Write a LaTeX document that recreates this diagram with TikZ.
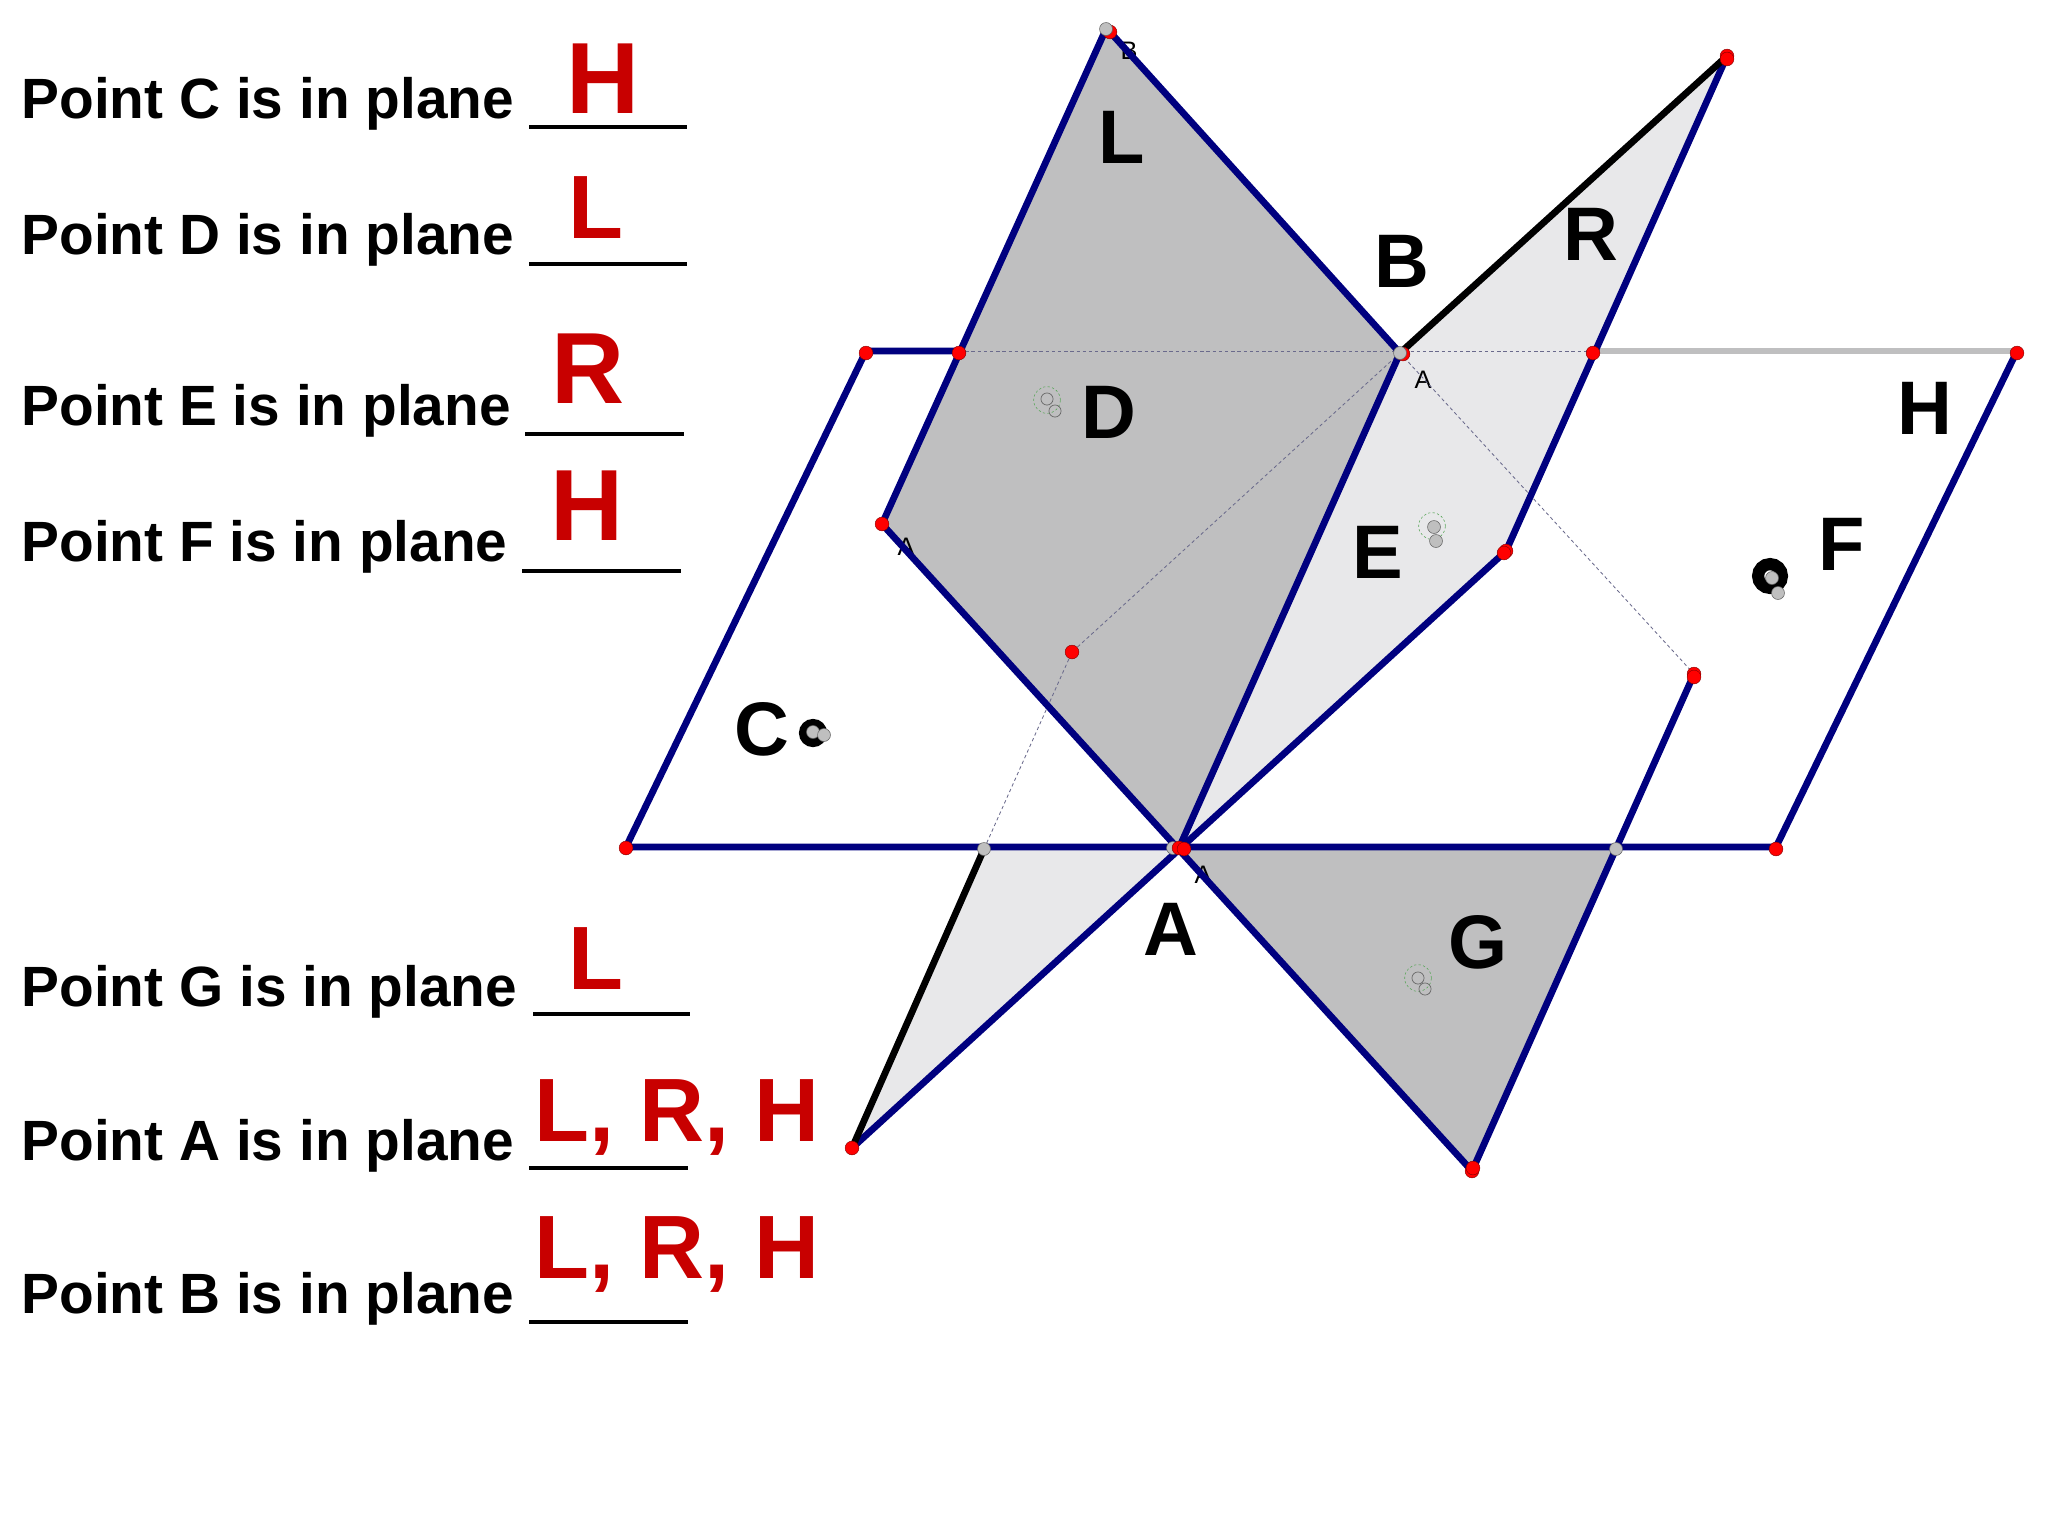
\documentclass[tikz,border=0pt]{standalone}
\usepackage{fontspec}
\setmainfont{Liberation Sans}
\definecolor{planeblue}{HTML}{00007F}
\definecolor{answerred}{HTML}{C80000}
\definecolor{darkplane}{HTML}{BFBFC0}
\definecolor{lightplane}{HTML}{E8E8EA}
\definecolor{hiddenline}{HTML}{6A6A8C}
\tikzset{
  edge/.style={draw=planeblue,line width=2.4pt,line cap=round},
  blackedge/.style={draw=black,line width=2.4pt,line cap=round},
  hidden/.style={draw=hiddenline,line width=0.3pt,dashed,dash pattern=on 1.2pt off 1pt},
  redpt/.style={circle,inner sep=0pt,minimum size=4.9pt,fill=red,draw=black!50!red,line width=0.15pt},
  graypt/.style={circle,inner sep=0pt,minimum size=4.6pt,fill=gray!50,draw=black!60,line width=0.2pt},
  hollowpt/.style={circle,inner sep=0pt,minimum size=4.3pt,draw=black!60,line width=0.25pt},
  halo/.style={circle,inner sep=0pt,minimum size=9.5pt,draw=green!30!gray,line width=0.2pt,dashed,dash pattern=on 0.8pt off 0.8pt},
  ringpt/.style={circle,inner sep=0pt,fill=white,draw=black},
  question/.style={anchor=base west,inner sep=0pt,font=\bfseries\fontsize{20.2}{24}\selectfont},
  answer/.style={anchor=base west,inner sep=0pt,text=answerred,font=\bfseries\fontsize{36}{40}\selectfont},
  answersmall/.style={anchor=base west,inner sep=0pt,text=answerred,font=\bfseries\fontsize{32}{36}\selectfont},
  blank/.style={draw=black,line width=1.6pt},
  biglabel/.style={inner sep=0pt,font=\bfseries\fontsize{27}{30}\selectfont},
  tinylabel/.style={inner sep=0pt,font=\fontsize{9}{10}\selectfont},
}
\begin{document}
\begin{tikzpicture}[x=0.125mm,y=-0.125mm]
  \useasboundingbox (0,0) rectangle (2048,1536);
  % corners of the planes
  \coordinate (htl) at (866,351);
  \coordinate (htr) at (2017,351);
  \coordinate (hbr) at (1776,847);
  \coordinate (hbl) at (626,847);
  \coordinate (lh) at (959,351);
  \coordinate (rh) at (1592,351);
  \coordinate (ptb) at (1400,353);
  \coordinate (pta) at (1179,848);
  \coordinate (ltop) at (1106,29);
  \coordinate (ltopb) at (1110,32);
  \coordinate (lleft) at (882,524);
  \coordinate (rtop) at (1727,56);
  \coordinate (rright) at (1506,551);
  \coordinate (rbot) at (852,1148);
  \coordinate (gbot) at (1472,1171);
  \coordinate (gright) at (1616,849);
  \coordinate (rleft) at (984,849);
  \coordinate (hidl) at (1072,652);
  \coordinate (hidr) at (1694,674);
  \coordinate (dotc) at (813,733);
  \coordinate (dotf) at (1770,576);
  % fills
  \fill[darkplane] (ltop) -- (ptb) -- (pta) -- (lleft) -- cycle;
  \fill[darkplane] (pta) -- (gright) -- (gbot) -- cycle;
  \fill[lightplane] (rtop) -- (ptb) -- (pta) -- (rright) -- cycle;
  \fill[lightplane] (rleft) -- (pta) -- (rbot) -- cycle;
  % small labels
  \node[tinylabel] (smallb) at (1129,51) {B};
  \node[tinylabel] (smalla) at (1423,380) {A};
  \node[tinylabel] (smallc) at (906,547) {A};
  \node[tinylabel] (smalld) at (1203,875) {A};
  % hidden lines
  \draw[hidden] (lh) -- (rh);
  \draw[hidden] (ptb) -- (hidl) -- (rleft);
  \draw[hidden] (ptb) -- (hidr);
  % edges
  \draw[draw=darkplane,line width=2.4pt] (rh) -- (htr);
  \draw[edge] (lh) -- (htl) -- (hbl) -- (hbr) -- (htr);
  \draw[edge] (ltop) -- (lleft) -- (gbot) -- (hidr);
  \draw[edge] (ltopb) -- (ptb) -- (pta);
  \draw[edge] (rtop) -- (rright) -- (rbot);
  \draw[blackedge] (ptb) -- (rtop);
  \draw[blackedge] (rleft) -- (rbot);
  % points
  \node[redpt] (p1) at (ltopb) {};
  \node[graypt] (p2) at (ltop) {};
  \node[redpt] (p3) at (866,353) {};
  \node[redpt] (p4) at (959,353) {};
  \node[redpt] (p5) at (1403,354) {};
  \node[graypt] (p6) at (ptb) {};
  \node[redpt] (p7) at (1593,353) {};
  \node[redpt] (p8) at (2017,353) {};
  \node[redpt] (p9) at (rtop) {};
  \node[redpt] (p10) at (1727,59) {};
  \node[redpt] (p11) at (lleft) {};
  \node[redpt] (p12) at (rright) {};
  \node[redpt] (p13) at (1504,553) {};
  \node[redpt] (p14) at (hidl) {};
  \node[redpt] (p15) at (hidr) {};
  \node[redpt] (p16) at (1694,677) {};
  \node[redpt] (p17) at (626,848) {};
  \node[graypt] (p18) at (rleft) {};
  \node[graypt] (p19) at (1173,848) {};
  \node[redpt] (p20) at (pta) {};
  \node[redpt] (p21) at (1184,849) {};
  \node[graypt] (p22) at (gright) {};
  \node[redpt] (p23) at (1776,849) {};
  \node[redpt] (p24) at (rbot) {};
  \node[redpt] (p25) at (gbot) {};
  \node[redpt] (p26) at (1473,1168) {};
  % points on the planes
  \node[halo] (hd) at (1047,400) {};
  \node[hollowpt] (d1) at (1047,399) {};
  \node[hollowpt] (d2) at (1055,411) {};
  \node[halo] (he) at (1432,526) {};
  \node[graypt] (e1) at (1434,527) {};
  \node[graypt] (e2) at (1436,541) {};
  \node[halo] (hg) at (1418,978) {};
  \node[hollowpt] (g1) at (1418,978) {};
  \node[hollowpt] (g2) at (1425,989) {};
  \node[ringpt,minimum size=6.8pt,line width=3.2pt] (c0) at (dotc) {};
  \node[graypt] (c1) at (813,732) {};
  \node[graypt] (c2) at (824,735) {};
  \node[ringpt,minimum size=8.5pt,line width=4.3pt] (f0) at (dotf) {};
  \node[graypt] (f1) at (1772,578) {};
  \node[graypt] (f2) at (1778,593) {};
  % big labels
  \node[biglabel] (labl) at (1122,137) {L};
  \node[biglabel] (labb) at (1402,261) {B};
  \node[biglabel] (labr) at (1591,234) {R};
  \node[biglabel] (labd) at (1109,412) {D};
  \node[biglabel] (labh) at (1925,408) {H};
  \node[biglabel] (labf) at (1842,544) {F};
  \node[biglabel] (labe) at (1378,552) {E};
  \node[biglabel] (labc) at (762,729) {C};
  \node[biglabel] (laba) at (1171,929) {A};
  \node[biglabel] (labg) at (1478,942) {G};
  % questions and answers
  \node[question] (qc) at (21,118) {Point C is in plane};
  \node[question] (qd) at (21,254) {Point D is in plane};
  \node[question] (qe) at (21,425) {Point E is in plane};
  \node[question] (qf) at (21,561) {Point F is in plane};
  \node[question] (qg) at (21,1006) {Point G is in plane};
  \node[question] (qa) at (21,1160) {Point A is in plane};
  \node[question] (qb) at (21,1313) {Point B is in plane};
  \node[answer] (ac) at (566,113) {H};
  \node[answersmall] (ad) at (568,238) {L};
  \node[answer] (ae) at (551,403) {R};
  \node[answer] (af) at (550,540) {H};
  \node[answersmall] (ag) at (568,989) {L};
  \node[answersmall] (aa) at (534,1141) {L, R, H};
  \node[answersmall] (ab) at (534,1278) {L, R, H};
  \coordinate (lc1) at (529,127);
  \coordinate (lc2) at (687,127);
  \coordinate (ld1) at (529,264);
  \coordinate (ld2) at (687,264);
  \coordinate (le1) at (525,434);
  \coordinate (le2) at (684,434);
  \coordinate (lf1) at (522,571);
  \coordinate (lf2) at (681,571);
  \coordinate (lg1) at (533,1014);
  \coordinate (lg2) at (690,1014);
  \coordinate (la1) at (529,1168);
  \coordinate (la2) at (688,1168);
  \coordinate (lb1) at (529,1322);
  \coordinate (lb2) at (688,1322);
  \draw[blank] (lc1) -- (lc2);
  \draw[blank] (ld1) -- (ld2);
  \draw[blank] (le1) -- (le2);
  \draw[blank] (lf1) -- (lf2);
  \draw[blank] (lg1) -- (lg2);
  \draw[blank] (la1) -- (la2);
  \draw[blank] (lb1) -- (lb2);
\end{tikzpicture}
\end{document}
